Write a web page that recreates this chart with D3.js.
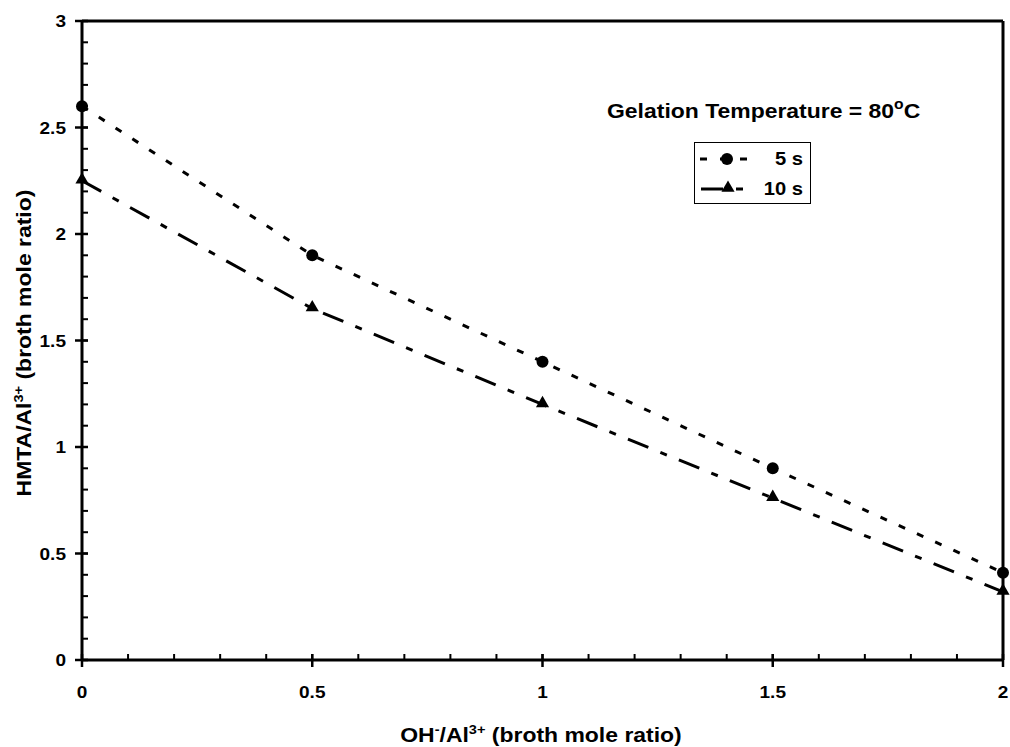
<!DOCTYPE html>
<html><head><meta charset="utf-8">
<script src="https://cdn.jsdelivr.net/npm/d3@7"></script>
<style>body{margin:0;background:#fff}svg{display:block}text{font-family:"Liberation Sans",Arial,sans-serif;font-weight:bold;fill:#000}</style>
</head><body>
<script>
const xValues = [0, 0.5, 1, 1.5, 2];
const series5s = [2.6, 1.9, 1.4, 0.9, 0.41];
const series10s = [2.25, 1.65, 1.2, 0.76, 0.32];
const xTickLabels = ["0", "0.5", "1", "1.5", "2"];
const yTickLabels = ["0", "0.5", "1", "1.5", "2", "2.5", "3"];
const legendLabels = ["5 s", "10 s"];

const W = 1010, H = 747;
const m = {l: 82, r: 1003, t: 21, b: 660};
const SX = 1.12;
const svg = d3.select("body").append("svg").attr("width", W).attr("height", H);
const x = d3.scaleLinear().domain([0, 2]).range([m.l, m.r]);
const y = d3.scaleLinear().domain([0, 3]).range([m.b, m.t]);

function txt(parent, tx, ty, size, anchor, rot) {
  return parent.append("text")
    .attr("transform", `translate(${tx},${ty})${rot ? " rotate(" + rot + ")" : ""} scale(${SX},1)`)
    .attr("text-anchor", anchor).attr("font-size", size);
}

// frame top and right
svg.append("line").attr("x1", m.l).attr("x2", m.r).attr("y1", m.t).attr("y2", m.t).attr("stroke", "#000").attr("stroke-width", 3);
svg.append("line").attr("x1", m.r).attr("x2", m.r).attr("y1", m.t).attr("y2", m.b).attr("stroke", "#000").attr("stroke-width", 3);

// x axis
const xMinor = d3.range(0, 2.0001, 0.1);
const gx = svg.append("g");
gx.append("line").attr("x1", m.l).attr("x2", m.r).attr("y1", m.b).attr("y2", m.b).attr("stroke", "#000").attr("stroke-width", 3);
gx.selectAll(".mn").data(xMinor).join("line")
  .attr("x1", d => x(d)).attr("x2", d => x(d))
  .attr("y1", m.b).attr("y2", m.b - 6).attr("stroke", "#000").attr("stroke-width", 2);
gx.selectAll(".mj").data(xValues).join("line")
  .attr("x1", d => x(d)).attr("x2", d => x(d))
  .attr("y1", m.b - 6).attr("y2", m.b + 7).attr("stroke", "#000").attr("stroke-width", 2.5);
xValues.forEach((d, i) => txt(gx, x(d), 698, 17, "middle").text(xTickLabels[i]));

// y axis
const yMajor = d3.range(0, 3.0001, 0.5);
const yMinor = d3.range(0, 3.0001, 0.1);
const gy = svg.append("g");
gy.append("line").attr("x1", m.l).attr("x2", m.l).attr("y1", m.t).attr("y2", m.b).attr("stroke", "#000").attr("stroke-width", 3);
gy.selectAll(".mn").data(yMinor).join("line")
  .attr("x1", m.l).attr("x2", m.l + 6)
  .attr("y1", d => y(d)).attr("y2", d => y(d)).attr("stroke", "#000").attr("stroke-width", 2);
gy.selectAll(".mj").data(yMajor).join("line")
  .attr("x1", m.l - 7).attr("x2", m.l + 6)
  .attr("y1", d => y(d)).attr("y2", d => y(d)).attr("stroke", "#000").attr("stroke-width", 2.5);
yMajor.forEach((d, i) => txt(gy, 66, y(d) + 6, 17, "end").text(yTickLabels[i]));

// axis titles
const xt = txt(svg, 541, 742, 20.5, "middle");
xt.append("tspan").text("OH");
xt.append("tspan").attr("dy", -8).attr("font-size", 13).text("-");
xt.append("tspan").attr("dy", 8).text("/Al");
xt.append("tspan").attr("dy", -8).attr("font-size", 13).text("3+");
xt.append("tspan").attr("dy", 8).text(" (broth mole ratio)");

const yt = txt(svg, 31, 343, 20.5, "middle", -90);
yt.append("tspan").text("HMTA/Al");
yt.append("tspan").attr("dy", -8).attr("font-size", 13).text("3+");
yt.append("tspan").attr("dy", 8).text(" (broth mole ratio)");

// series lines
const line = d3.line().x(d => x(d[0])).y(d => y(d[1]));
const d5 = xValues.map((v, i) => [v, series5s[i]]);
const d10 = xValues.map((v, i) => [v, series10s[i]]);
svg.append("path").attr("d", line(d5)).attr("fill", "none").attr("stroke", "#000").attr("stroke-width", 3).attr("stroke-dasharray", "7,13");
svg.append("path").attr("d", line(d10)).attr("fill", "none").attr("stroke", "#000").attr("stroke-width", 3).attr("stroke-dasharray", "22,13,7,13");

const tri = d3.symbol().type(d3.symbolTriangle).size(75);
svg.selectAll(".c5").data(d5).join("circle").attr("cx", d => x(d[0])).attr("cy", d => y(d[1])).attr("r", 6).attr("fill", "#000");
svg.selectAll(".t10").data(d10).join("path").attr("d", tri).attr("transform", d => `translate(${x(d[0])},${y(d[1]) - 1})`).attr("fill", "#000");

// annotation
const ann = txt(svg, 607, 118, 20.5, "start");
ann.append("tspan").text("Gelation Temperature = 80");
ann.append("tspan").attr("dy", -9).attr("font-size", 14).text("o");
ann.append("tspan").attr("dy", 9).text("C");

// legend
const lg = svg.append("g");
lg.append("rect").attr("x", 694.5).attr("y", 142.5).attr("width", 116).attr("height", 61).attr("fill", "#fff").attr("stroke", "#000").attr("stroke-width", 1);
lg.append("line").attr("x1", 700).attr("x2", 747).attr("y1", 159).attr("y2", 159).attr("stroke", "#000").attr("stroke-width", 3).attr("stroke-dasharray", "7,13");
lg.append("circle").attr("cx", 727).attr("cy", 159).attr("r", 6).attr("fill", "#000");
lg.append("line").attr("x1", 701).attr("x2", 747).attr("y1", 189).attr("y2", 189).attr("stroke", "#000").attr("stroke-width", 3).attr("stroke-dasharray", "22,13,7,13");
lg.append("path").attr("d", tri).attr("transform", "translate(728,188)").attr("fill", "#000");
legendLabels.forEach((d, i) => txt(lg, 803, 165 + i * 30, 18, "end").text(d));
</script>
</body></html>
